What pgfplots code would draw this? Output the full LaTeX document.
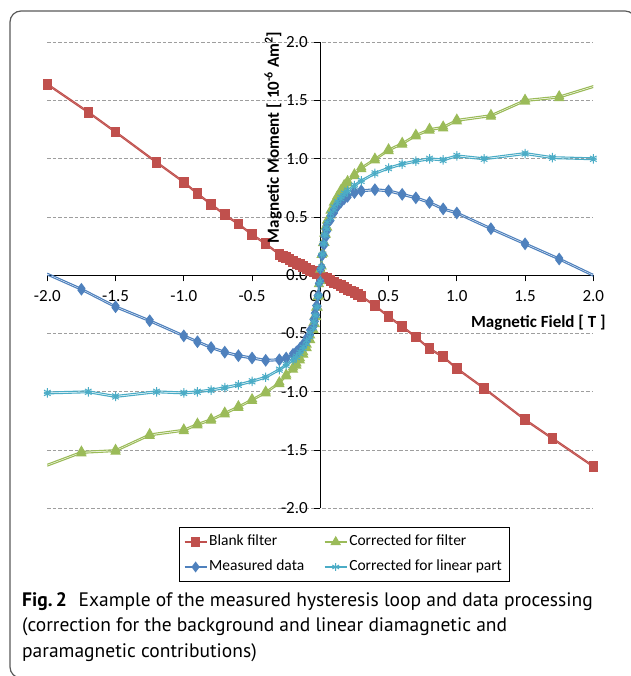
\documentclass[border=0pt]{standalone}
\usepackage{fontspec}
\setmainfont{Carlito}
\newfontfamily\capfont{PT Sans}
\usepackage{pgfplots}
\usepackage{pgfplotstable}
\pgfplotsset{compat=1.18}
\definecolor{cRed}{HTML}{C0504D}
\definecolor{cBlue}{HTML}{4F81BD}
\definecolor{cGreen}{HTML}{9BBB59}
\definecolor{cCyan}{HTML}{4BACC6}

\pgfplotstableread{
x up down
-2.0 1.634 1.646
-1.7 1.394 1.406
-1.5 1.224 1.236
-1.2 0.964 0.976
-1.0 0.794 0.806
-0.9 0.694 0.706
-0.8 0.604 0.616
-0.7 0.514 0.526
-0.6 0.434 0.446
-0.5 0.344 0.356
-0.4 0.264 0.276
-0.3 0.174 0.186
-0.275 0.159 0.171
-0.25 0.144 0.156
-0.225 0.129 0.141
-0.2 0.114 0.126
-0.175 0.099 0.111
-0.15 0.084 0.096
-0.125 0.069 0.081
-0.1 0.054 0.066
-0.075 0.039 0.051
-0.05 0.024 0.036
-0.025 0.009 0.021
0 -0.006 0.006
0.025 -0.021 -0.009
0.05 -0.036 -0.024
0.075 -0.051 -0.039
0.1 -0.066 -0.054
0.125 -0.081 -0.069
0.15 -0.096 -0.084
0.175 -0.111 -0.099
0.2 -0.126 -0.114
0.225 -0.141 -0.129
0.25 -0.156 -0.144
0.275 -0.171 -0.159
0.3 -0.186 -0.174
0.4 -0.266 -0.254
0.5 -0.361 -0.349
0.6 -0.446 -0.434
0.7 -0.536 -0.524
0.8 -0.636 -0.624
0.9 -0.706 -0.694
1.0 -0.806 -0.794
1.2 -0.976 -0.964
1.5 -1.246 -1.234
1.7 -1.406 -1.394
2.0 -1.646 -1.634
}\tabred

\pgfplotstableread{
x up down
-2.0 0.002 0.018
-1.75 -0.128 -0.112
-1.5 -0.278 -0.262
-1.25 -0.398 -0.382
-1.0 -0.528 -0.512
-0.9 -0.578 -0.562
-0.8 -0.628 -0.612
-0.7 -0.668 -0.652
-0.6 -0.698 -0.682
-0.5 -0.718 -0.702
-0.4 -0.738 -0.722
-0.3 -0.733 -0.717
-0.25 -0.718 -0.702
-0.2 -0.69 -0.67
-0.175 -0.67 -0.65
-0.15 -0.64 -0.62
-0.125 -0.605 -0.585
-0.1 -0.565 -0.535
-0.075 -0.51 -0.47
-0.05 -0.44 -0.38
-0.04 -0.395 -0.325
-0.03 -0.34 -0.26
-0.02 -0.265 -0.175
-0.01 -0.17 -0.07
0 -0.05 0.05
0.01 0.07 0.17
0.02 0.175 0.265
0.03 0.26 0.34
0.04 0.325 0.395
0.05 0.38 0.44
0.075 0.47 0.51
0.1 0.535 0.565
0.125 0.585 0.605
0.15 0.62 0.64
0.175 0.65 0.67
0.2 0.67 0.69
0.25 0.702 0.718
0.3 0.717 0.733
0.4 0.727 0.743
0.5 0.717 0.733
0.6 0.687 0.703
0.7 0.657 0.673
0.8 0.617 0.633
0.9 0.562 0.578
1.0 0.527 0.543
1.25 0.392 0.408
1.5 0.262 0.278
1.75 0.132 0.148
2.0 -0.008 0.008
}\tabblue

\pgfplotstableread{
x up down
-2.0 -1.638 -1.622
-1.75 -1.528 -1.512
-1.5 -1.513 -1.497
-1.25 -1.378 -1.362
-1.0 -1.338 -1.322
-0.9 -1.288 -1.272
-0.8 -1.248 -1.232
-0.7 -1.193 -1.177
-0.6 -1.138 -1.122
-0.5 -1.078 -1.062
-0.4 -1.013 -0.997
-0.3 -0.933 -0.917
-0.25 -0.868 -0.852
-0.2 -0.81 -0.79
-0.175 -0.775 -0.755
-0.15 -0.73 -0.71
-0.125 -0.68 -0.66
-0.1 -0.625 -0.595
-0.075 -0.555 -0.515
-0.05 -0.47 -0.41
-0.04 -0.419 -0.349
-0.03 -0.358 -0.278
-0.02 -0.277 -0.187
-0.01 -0.176 -0.076
0 -0.05 0.05
0.01 0.076 0.176
0.02 0.187 0.277
0.03 0.278 0.358
0.04 0.349 0.419
0.05 0.41 0.47
0.075 0.515 0.555
0.1 0.595 0.625
0.125 0.66 0.68
0.15 0.71 0.73
0.175 0.755 0.775
0.2 0.79 0.81
0.25 0.852 0.868
0.3 0.912 0.928
0.4 0.987 1.003
0.5 1.067 1.083
0.6 1.122 1.138
0.7 1.192 1.208
0.8 1.242 1.258
0.9 1.262 1.278
1.0 1.322 1.338
1.25 1.362 1.378
1.5 1.492 1.508
1.75 1.522 1.538
2.0 1.612 1.628
}\tabgreen

\pgfplotstableread{
x up down
-2.0 -1.018 -1.002
-1.7 -1.008 -0.992
-1.5 -1.048 -1.032
-1.2 -1.008 -0.992
-1.0 -1.018 -1.002
-0.9 -1.008 -0.992
-0.8 -0.993 -0.977
-0.7 -0.973 -0.957
-0.6 -0.948 -0.932
-0.5 -0.918 -0.902
-0.4 -0.883 -0.867
-0.3 -0.818 -0.802
-0.25 -0.778 -0.762
-0.2 -0.735 -0.715
-0.175 -0.71 -0.69
-0.15 -0.675 -0.655
-0.125 -0.635 -0.615
-0.1 -0.59 -0.56
-0.075 -0.53 -0.49
-0.05 -0.455 -0.395
-0.04 -0.41 -0.34
-0.03 -0.35 -0.27
-0.02 -0.275 -0.185
-0.01 -0.175 -0.075
0 -0.05 0.05
0.01 0.075 0.175
0.02 0.185 0.275
0.03 0.27 0.35
0.04 0.34 0.41
0.05 0.395 0.455
0.075 0.49 0.53
0.1 0.56 0.59
0.125 0.615 0.635
0.15 0.655 0.675
0.175 0.69 0.71
0.2 0.715 0.735
0.25 0.762 0.778
0.3 0.802 0.818
0.4 0.867 0.883
0.5 0.912 0.928
0.6 0.947 0.963
0.7 0.972 0.988
0.8 0.992 1.008
0.9 0.982 0.998
1.0 1.017 1.033
1.2 0.992 1.008
1.5 1.037 1.053
1.7 1.002 1.018
2.0 0.992 1.008
}\tabcyan

\begin{document}
\begin{tikzpicture}
\useasboundingbox (0pt,0pt) rectangle (630pt,676pt);
\draw[line width=1.2pt, black!65, rounded corners=11pt]
  (24pt,-2pt) -- (10pt,-2pt) -- (10pt,665pt) -- (636pt,665pt) -- (636pt,640pt);
\begin{axis}[
  at={(47.3pt,167.7pt)}, anchor=south west,
  scale only axis, width=546pt, height=466pt,
  xmin=-2, xmax=2, ymin=-2, ymax=2,
  axis lines=middle,
  axis line style={-, black, line width=1pt},
  clip=false,
  hide obscured x ticks=false, hide obscured y ticks=false,
  xtick={-2,-1.5,-1,-0.5,0,0.5,1,1.5,2},
  xticklabels={-2.0,-1.5,-1.0,-0.5,0.0,0.5,1.0,1.5,2.0},
  ytick={-2,-1.5,-1,-0.5,0,0.5,1,1.5,2},
  yticklabels={-2.0,-1.5,-1.0,-0.5,0.0,0.5,1.0,1.5,2.0},
  tick align=outside,
  major tick length=6pt,
  tick style={black, line width=0.8pt},
  ticklabel style={font=\fontsize{17}{19}\selectfont},
  xticklabel style={yshift=-6pt},
  yticklabel style={xshift=-3pt},
  ymajorgrids=true,
  major grid style={black!38, dash pattern=on 3.5pt off 2pt, line width=0.7pt},
  every axis x label/.style={at={(axis description cs:1.029,0.3985)}, anchor=east, font=\fontsize{17}{20}\selectfont\bfseries},
  every axis y label/.style={at={(axis description cs:0.4134,1.0307)}, anchor=east, rotate=90, font=\fontsize{17}{20}\selectfont\bfseries},
  xlabel={Magnetic Field [ T ]},
  ylabel={Magnetic Moment [ 10\textsuperscript{-6} Am\textsuperscript{2}]},
  legend columns=2,
  legend cell align=left,
  legend style={at={(axis description cs:0.5434,-0.0991)}, anchor=center,
    draw=black, line width=0.8pt, font=\fontsize{15.5}{17}\selectfont,
    inner xsep=5pt, inner ysep=2pt,
    /tikz/every even column/.append style={column sep=18pt},
    nodes={text height=11pt, text depth=3pt, inner ysep=5.5pt}},
  legend image code/.code={\draw[#1, mark indices={2}] plot coordinates {(0pt,0pt) (11pt,0pt) (22pt,0pt)};},
]
% Blank filter
\addplot[cRed, line width=1.1pt, mark=square*, mark size=4.2pt, mark options={solid, fill=cRed, draw=cRed}, forget plot] table[x=x,y=down]{\tabred};
\addplot[cRed, line width=1.1pt, mark=square*, mark size=4.2pt, mark options={solid, fill=cRed, draw=cRed}] table[x=x,y=up]{\tabred};
\addlegendentry{Blank filter}
% Corrected for filter
\addplot[cGreen, line width=1.1pt, mark=triangle*, mark size=5pt, mark indices={2,...,48}, mark options={solid, fill=cGreen, draw=cGreen}, forget plot] table[x=x,y=down]{\tabgreen};
\addplot[cGreen, line width=1.1pt, mark=triangle*, mark size=5pt, mark indices={2,...,48}, mark options={solid, fill=cGreen, draw=cGreen}] table[x=x,y=up]{\tabgreen};
\addlegendentry{Corrected for filter}
% Measured data
\addplot[cBlue, line width=1.1pt, mark=diamond*, mark size=4.6pt, mark indices={2,...,48}, mark options={solid, fill=cBlue, draw=cBlue}, forget plot] table[x=x,y=down]{\tabblue};
\addplot[cBlue, line width=1.1pt, mark=diamond*, mark size=4.6pt, mark indices={2,...,48}, mark options={solid, fill=cBlue, draw=cBlue}] table[x=x,y=up]{\tabblue};
\addlegendentry{Measured data}
% Corrected for linear part
\addplot[cCyan, line width=1.1pt, mark=asterisk, mark size=3.8pt, mark options={solid, line width=1pt}, forget plot] table[x=x,y=down]{\tabcyan};
\addplot[cCyan, line width=1.1pt, mark=asterisk, mark size=3.8pt, mark options={solid, line width=1pt}] table[x=x,y=up]{\tabcyan};
\addlegendentry{Corrected for linear part}
\end{axis}
\node[anchor=north west, align=left, inner sep=0pt, font=\capfont\fontsize{19.5}{25.5}\selectfont] at (22pt,84pt)
  {\textbf{Fig.\,2}\hspace{0.6em}Example of the measured hysteresis loop and data processing\\
   (correction for the background and linear diamagnetic and\\
   paramagnetic contributions)};
\end{tikzpicture}
\end{document}
